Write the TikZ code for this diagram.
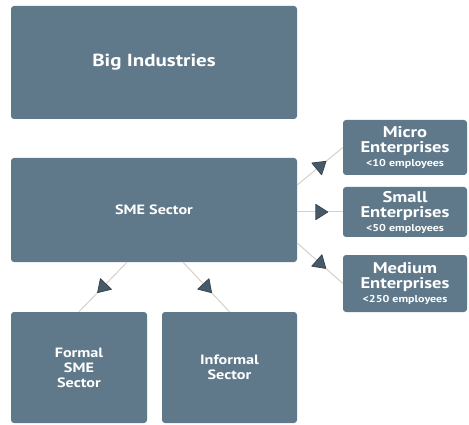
\documentclass[tikz,border=0pt]{standalone}
\usepackage{fontspec}
\setmainfont{PT Sans}[FakeStretch=1.2]
\usepackage{tikz}
\usetikzlibrary{shapes.geometric,calc}

\definecolor{slate}{RGB}{96,121,138}
\definecolor{slatedark}{RGB}{70,90,104}
\definecolor{linkgray}{RGB}{214,208,200}

\begin{document}
\begin{tikzpicture}[x=1pt, y=-1pt,
            % Style for the slate boxes
            box/.style={fill=slate, rounded corners=3pt, text=white, align=center, inner sep=2pt, font=\bfseries},
            % Style for the small triangle markers on the links
            tri/.style={isosceles triangle, isosceles triangle apex angle=65, fill=slatedark,
                        draw=slatedark!80!black, line width=0.8pt, line join=round, inner sep=0pt,
                        minimum height=12pt, minimum width=11pt, sloped, allow upside down},
            % Style for the links
            link/.style={draw=linkgray, line width=1pt}
        ]
            \useasboundingbox (0,0) rectangle (469,425);

            % --- 1. LEFT COLUMN ---
            \node[box, minimum width=286pt, minimum height=113pt, font=\bfseries\fontsize{17.5}{21}\selectfont] (big) at (154,62.5) {Big Industries};
            \node[box, minimum width=286pt, minimum height=104pt, font=\bfseries\fontsize{13.5}{16}\selectfont] (sme) at (154,210) {SME Sector};

            % --- 2. ENTERPRISE SIZES (right) ---
            \node[box, minimum width=124pt, minimum height=55pt, font=\bfseries\fontsize{15.5}{15.5}\selectfont] (micro) at (405,147.5)
                {Micro\\Enterprises\\[-2pt]{\fontsize{10}{10}\selectfont <10 employees}};
            \node[box, minimum width=124pt, minimum height=50pt, font=\bfseries\fontsize{15.5}{15.5}\selectfont] (small) at (405,212)
                {Small\\Enterprises\\[-2pt]{\fontsize{10}{10}\selectfont <50 employees}};
            \node[box, minimum width=124pt, minimum height=57pt, font=\bfseries\fontsize{15.5}{15.5}\selectfont] (medium) at (405,283.5)
                {Medium\\Enterprises\\[-2pt]{\fontsize{10}{10}\selectfont <250 employees}};

            % --- 3. FORMAL / INFORMAL (bottom) ---
            \node[box, minimum width=136pt, minimum height=111pt, font=\bfseries\fontsize{13.5}{15}\selectfont] (formal) at (79,367.5) {Formal\\SME\\Sector};
            \node[box, minimum width=135pt, minimum height=111pt, font=\bfseries\fontsize{13.5}{15}\selectfont] (informal) at (229.5,367.5) {Informal\\Sector};

            % --- 4. LINKS WITH TRIANGLES ---
            \draw[link] ($(sme.east)+(0,-25)$) -- node[tri] {} (micro.west);
            \draw[link] (sme.east |- small.west) -- node[tri] {} (small.west);
            \draw[link] ($(sme.east)+(0,33)$) -- node[tri] {} (medium.west);
            \draw[link] ($(sme.south)+(-27,0)$) -- node[tri] {} (formal.north);
            \draw[link] ($(sme.south)+(29,0)$) -- node[tri] {} (informal.north);

        \end{tikzpicture}
\end{document}
